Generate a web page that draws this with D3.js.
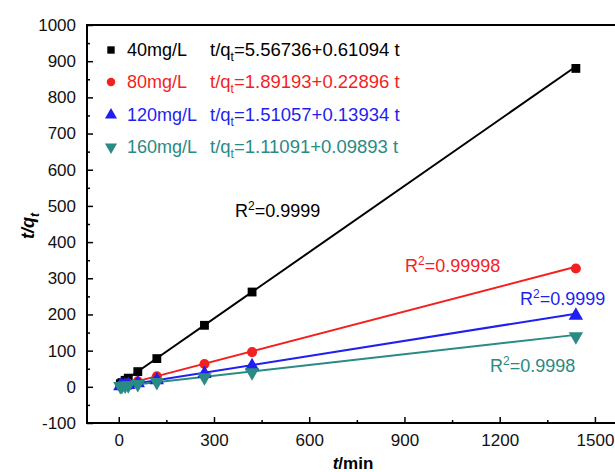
<!DOCTYPE html>
<html>
<head>
<meta charset="utf-8">
<script src="https://cdnjs.cloudflare.com/ajax/libs/d3/7.8.5/d3.min.js"></script>
<style>
body { margin: 0; background: #fff; }
svg { font-family: "Liberation Sans", Arial, sans-serif; }
</style>
</head>
<body>
<svg width="615" height="472"></svg>
<script>
const times = [5, 10, 20, 30, 60, 120, 270, 420, 1440];
const seriesNames = ["40mg/L", "80mg/L", "120mg/L", "160mg/L"];
const vals40 = [8.6, 11.7, 18, 24, 42, 78, 170, 262, 880];
const vals80 = [3.0, 4.2, 6.5, 8.8, 15.5, 29, 63, 96, 327];
const vals120 = [2.2, 2.9, 4.3, 5.7, 10, 18.5, 36, 57, 197];
const vals160 = [1.6, 2.1, 3.1, 4.1, 7, 13, 26, 40, 139];
const intercepts = [5.56736, 1.89193, 1.51057, 1.11091];
const slopes = [0.61094, 0.22896, 0.13934, 0.09893];
const r2Labels = ["0.9999", "0.99998", "0.9999", "0.9998"];
const xTicks = [0, 300, 600, 900, 1200, 1500];
const yTicks = [-100, 0, 100, 200, 300, 400, 500, 600, 700, 800, 900, 1000];

const colors = ["#000000", "#f41f1f", "#1f1fef", "#2a8a84"];
const symbols = [d3.symbolSquare, d3.symbolCircle, d3.symbolTriangle, d3.symbolTriangle];
const symSize = [78, 80, 90, 90];
const symRot = [0, 0, 0, 180];
const allVals = [vals40, vals80, vals120, vals160];

const svg = d3.select("svg");
// right edge of the frame falls outside the picture
const m = { l: 87, t: 25, r: 620, b: 423 };

const x = d3.scaleLinear().domain([-100, 1579]).range([m.l, m.r]);
const y = d3.scaleLinear().domain([-100, 1000]).range([m.b, m.t]);

// axes with inward ticks
const xAxis = svg.append("g").attr("transform", `translate(0,${m.b})`)
  .call(d3.axisBottom(x).tickValues(xTicks).tickSize(-6).tickPadding(11).tickFormat(d => String(d)));
svg.append("g").attr("transform", `translate(0,${m.b})`)
  .call(d3.axisBottom(x).tickValues(d3.range(150, 1600, 300)).tickSize(-3).tickFormat(""))
  .call(g => g.select(".domain").remove());
const yAxis = svg.append("g").attr("transform", `translate(${m.l},0)`)
  .call(d3.axisLeft(y).tickValues(yTicks).tickSize(-6).tickPadding(11).tickFormat(d => String(d)));
svg.append("g").attr("transform", `translate(${m.l},0)`)
  .call(d3.axisLeft(y).tickValues(d3.range(-50, 1000, 100)).tickSize(-3).tickFormat(""))
  .call(g => g.select(".domain").remove());

svg.selectAll(".tick line").attr("stroke", "#000").attr("stroke-width", 1.5);
svg.selectAll(".tick text").attr("font-size", 17).attr("fill", "#111")
  .attr("font-family", "Liberation Sans, Arial, sans-serif");
xAxis.select(".domain").remove();
yAxis.select(".domain").remove();

// frame
svg.append("rect").attr("x", m.l).attr("y", m.t)
  .attr("width", m.r - m.l).attr("height", m.b - m.t)
  .attr("fill", "none").attr("stroke", "#000").attr("stroke-width", 2);

// fit lines
const line = d3.line().x(d => x(d[0])).y(d => y(d[1]));
intercepts.forEach((a, i) => {
  const b = slopes[i];
  svg.append("path")
    .attr("d", line([[0, a], [1440, a + b * 1440]]))
    .attr("stroke", colors[i]).attr("stroke-width", 2).attr("fill", "none");
});

// markers
allVals.forEach((vals, i) => {
  svg.append("g").selectAll("path")
    .data(vals.map((v, j) => [times[j], v]))
    .join("path")
    .attr("transform", d => `translate(${x(d[0])},${y(d[1])}) rotate(${symRot[i]})`)
    .attr("d", d3.symbol().type(symbols[i]).size(symSize[i]))
    .attr("fill", colors[i]);
});

// legend
const legRows = [56, 88, 121, 153];
seriesNames.forEach((name, i) => {
  const ly = legRows[i];
  svg.append("path")
    .attr("transform", `translate(111,${ly - 6}) rotate(${symRot[i]})`)
    .attr("d", d3.symbol().type(symbols[i]).size(symSize[i] * 0.7))
    .attr("fill", colors[i]);
  svg.append("text").attr("x", 127).attr("y", ly).attr("font-size", 18)
    .attr("fill", colors[i]).text(name);
  const t = svg.append("text").attr("x", 210).attr("y", ly).attr("font-size", 18.5)
    .attr("fill", colors[i]);
  t.append("tspan").text("t/q");
  t.append("tspan").attr("font-size", 12).attr("dy", 5).text("t");
  t.append("tspan").attr("dy", -5)
    .text(`=${intercepts[i].toFixed(5)}+${slopes[i].toFixed(5)} t`);
});

// R² labels
const r2Pos = [[235, 217], [405, 272], [520, 305], [490, 372]];
r2Labels.forEach((r, i) => {
  const t = svg.append("text").attr("x", r2Pos[i][0]).attr("y", r2Pos[i][1])
    .attr("font-size", 18).attr("fill", colors[i]);
  t.append("tspan").text("R");
  t.append("tspan").attr("font-size", 12).attr("dy", -7).text("2");
  t.append("tspan").attr("dy", 7).text("=" + r);
});

// axis titles
const yt = svg.append("text").attr("transform", "translate(34,226) rotate(-90)")
  .attr("text-anchor", "middle").attr("font-size", 18).attr("font-weight", "bold");
yt.append("tspan").attr("font-style", "italic").text("t/q");
yt.append("tspan").attr("font-style", "italic").attr("font-size", 12).attr("dy", 5).text("t");

const xt = svg.append("text").attr("x", 353).attr("y", 469)
  .attr("text-anchor", "middle").attr("font-size", 17).attr("font-weight", "bold");
xt.append("tspan").attr("font-style", "italic").text("t");
xt.append("tspan").text("/min");
</script>
</body>
</html>
